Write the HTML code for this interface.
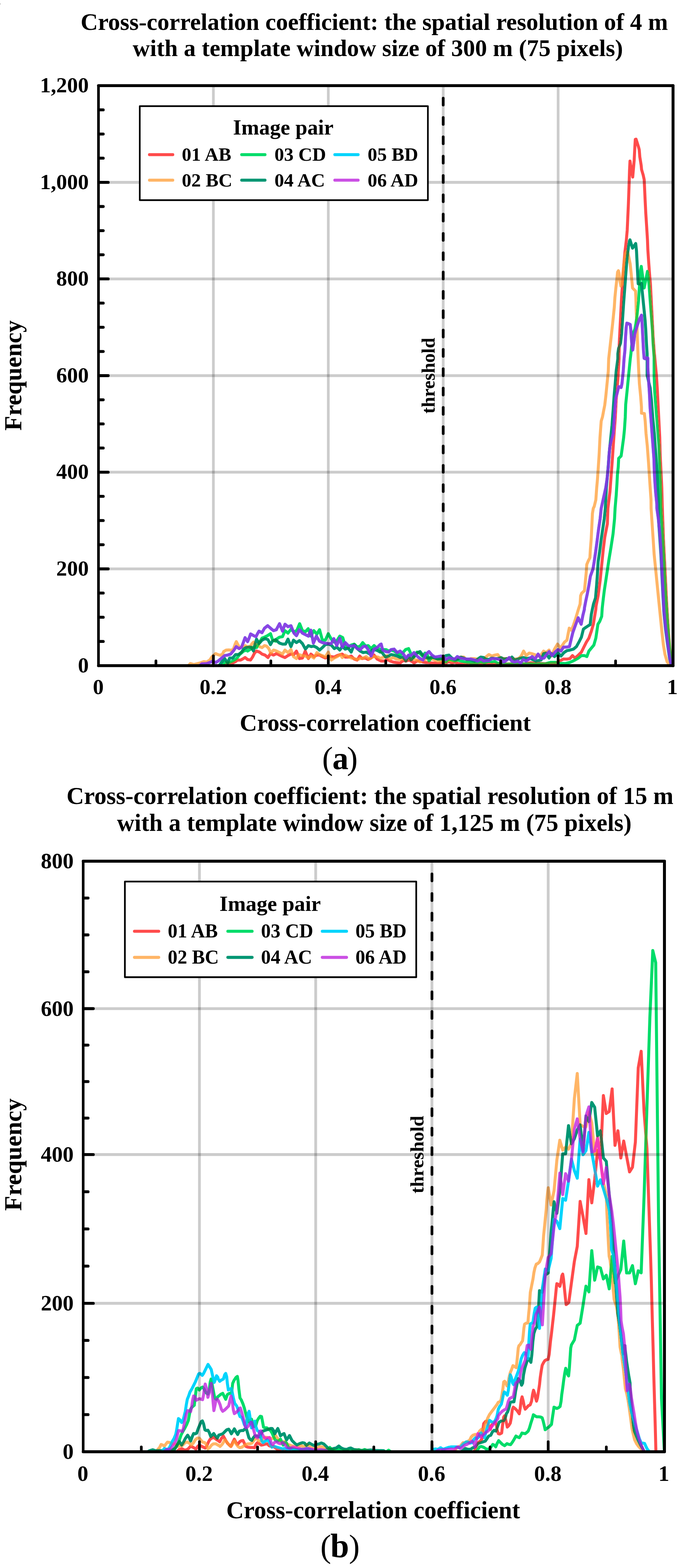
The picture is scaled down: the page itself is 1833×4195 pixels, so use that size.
<!DOCTYPE html>
<html lang="en"><head><meta charset="utf-8"><title>Cross-correlation coefficient histograms</title>
<style>
html,body{margin:0;padding:0;background:#fff;}
body{width:1833px;height:4195px;overflow:hidden;}
svg{display:block;}
text{font-family:'Liberation Serif', 'DejaVu Serif', serif;font-weight:bold;fill:#000;}
</style></head>
<body>
<svg width="1833" height="4195" viewBox="0 0 1833 4195">
<rect width="1833" height="4195" fill="#fff"/>
<rect x="0" y="9.9" width="1.2" height="1.3" fill="#000"/>
<g id="chart-a">
<text x="215.7" y="80" font-size="64.1px">Cross-correlation coefficient: the spatial resolution of 4 m</text>
<text x="355" y="150.3" font-size="63.93px">with a template window size of 300 m (75 pixels)</text>
<filter id="blend-a" filterUnits="userSpaceOnUse" x="263.5" y="229.2" width="1537.5" height="1551.7" color-interpolation-filters="sRGB"><feColorMatrix type="matrix" values="-2.64971 0 0 0 2.29836 0 -1.00000 0 0 1.00000 0 0 -1.00000 0 1.00000 0 0 0 0 1"/></filter>
<clipPath id="clip-a"><rect x="263.5" y="229.2" width="1537.5" height="1551.7"/></clipPath>
<g filter="url(#blend-a)"><rect x="263.5" y="229.2" width="1537.5" height="1551.7" fill="#7d0000"/>
<g fill="none" stroke-width="8" stroke-linejoin="round" stroke-linecap="round" stroke-opacity="0.74" clip-path="url(#clip-a)">
<path d="M598.5,1782.5 601.2,1782.5 609.2,1775.2 619.9,1775.2 630.5,1769.9 635.9,1765.9 643.8,1765.9 649.2,1763.2 655.8,1759.2 662.5,1764.5 670.5,1765.9 675.8,1757.9 681.1,1747.2 686.5,1741.9 694.5,1744.6 701.1,1749.9 709.1,1752.6 717.1,1759.2 723.8,1748.6 731.8,1752.6 739.8,1748.6 740,1748.6 748,1752.6 756,1756.6 762.6,1759.2 770.6,1753.9 778.6,1749.9 786.6,1751.2 793.3,1741.9 801.3,1761.9 809.3,1760.5 816.7,1741.9 825.3,1761.9 831.9,1749.9 839.9,1756.6 847.9,1752.6 855.1,1752.6 862.6,1756.6 870.5,1760.5 878.5,1756.6 886.5,1756.6 894.5,1757.9 902.5,1753.9 910.5,1751.2 915.9,1749.9 923.8,1757.9 931.8,1757.9 939.8,1755.2 947.8,1763.2 955.8,1765.9 962.5,1755.2 969.1,1761.9 977.1,1760.5 985.1,1764.5 993.1,1760.5 1001.1,1752.6 1009.1,1763.2 1017.1,1767.2 1020,1768.5 1028,1768.5 1036,1764.5 1044,1768.5 1052,1771.2 1060,1772.5 1070.6,1773.9 1078.6,1767.2 1086.6,1768.5 1094.6,1765.9 1102.6,1769.9 1107.9,1773.9 1115.9,1768.5 1123.9,1768.5 1131.9,1771.2 1139.9,1772.5 1147.9,1772.5 1155.9,1773.9 1163.9,1773.9 1171.9,1775.2 1179.9,1772.5 1186.5,1773.9 1193.2,1773.9 1201.2,1769.9 1209.2,1773.9 1217.2,1771.2 1225.2,1775.2 1233.2,1776.5 1241.1,1776.5 1249.1,1776.5 1259.8,1777.1 1273.1,1777.1 1286.4,1777.1 1297.1,1776.5 1300,1776.5 1326.6,1776.5 1353.3,1776.5 1379.9,1776.5 1406.6,1775.7 1419.9,1773.1 1433.2,1774.4 1459.9,1775.7 1486.5,1774.4 1497.2,1768.5 1507.8,1763.2 1518.5,1763.2 1525.1,1761.9 1531.8,1753.9 1538.5,1760.5 1546.5,1753.9 1555.8,1744.6 1562.4,1731.2 1569.1,1717.9 1575.8,1707.3 1582.4,1688.6 1587.8,1670 1591.7,1646 1594.4,1630 1595,1621.6 1600.5,1594 1606,1552.7 1610.1,1511.4 1614.3,1470.1 1618.4,1437.1 1625.3,1401.3 1626.7,1360 1632.2,1315.2 1635.5,1270.8 1638.8,1226.4 1641,1193.1 1643.3,1159.8 1646.6,1115.4 1648.8,1071 1653.2,1015.5 1656.6,960 1656.6,955.2 1657.1,919.7 1659.7,866.4 1661.5,830.9 1663.3,795.4 1665.1,768.7 1666.8,742.1 1669.5,706.6 1672.2,674.6 1676.1,642 1678.4,615.3 1681.6,544.3 1683.2,499.9 1684.6,455.4 1685.8,430.9 1687.6,443 1693.1,473.6 1697,428.8 1698.8,393.3 1700,372.9 1702,372.3 1705,381.7 1708.9,394.2 1710.5,400.4 1712.1,419.9 1715.7,442.1 1716.8,453.7 1721,467.9 1723.8,480.7 1724.7,499.9 1726.3,535.4 1728.1,570.9 1730.4,606.4 1732.6,642 1733.6,668.6 1735.4,695.2 1738.2,734.3 1740.5,759.9 1742.3,795.4 1744.1,830.9 1745.9,866.4 1747.7,902 1750.3,937.5 1756.5,1004.4 1758.7,1037.7 1760.9,1082.1 1763.2,1126.5 1765.4,1170.9 1766.5,1215.3 1768.7,1259.7 1770.9,1304.1 1772,1348.5 1775.3,1442.6 1779.5,1525.2 1783.6,1607.8 1787.7,1676.6 1791.8,1731.7 1796,1778.5" stroke="#00f3f3"><title>01 AB</title></path>
<path d="M502.6,1782.5 509.3,1775.2 518.6,1777.9 534.6,1773.9 545.3,1769.9 553.2,1771.2 561.2,1765.9 566.6,1757.9 571.9,1752.6 577.2,1748.6 582.6,1751.2 589.2,1753.1 595.9,1749.4 598.5,1743.2 605.2,1739.2 611.9,1738.7 619.9,1739.8 625.2,1735.2 629.2,1723.2 632.4,1716.6 637.2,1725.9 641.2,1732.6 646.5,1731.2 650.5,1729.9 655.8,1727.2 662.5,1731.2 670.5,1728.6 674.5,1721.9 678.5,1717.9 682.5,1723.2 686.5,1725.9 694.5,1729.9 701.1,1732.6 707.8,1727.2 713.1,1728.6 718.4,1733.9 722.4,1741.9 723.8,1747.2 726.4,1745.9 731.8,1739.2 737.1,1740.6 740,1741.9 748,1745.9 756,1749.9 762.6,1739.2 770.6,1745.9 778.6,1737.9 785.3,1756.6 793.3,1761.9 800,1751.2 807.9,1753.9 817.3,1755.2 825.3,1760.5 831.9,1755.2 839.9,1760.5 847.9,1745.9 855.1,1751.2 862.6,1753.9 870.5,1757.9 878.5,1744.6 886.5,1765.9 894.5,1760.5 902.5,1756.6 910.5,1751.2 915.9,1759.2 923.8,1752.6 931.8,1756.6 939.8,1760.5 947.8,1761.9 955.8,1764.5 963.8,1761.9 971.8,1760.5 979.8,1756.6 987.8,1763.2 995.8,1757.9 1003.8,1756.6 1011.8,1757.9 1018.4,1761.9 1020,1760.5 1028,1757.9 1036,1753.9 1044,1763.2 1052,1759.2 1060,1763.2 1068,1764.5 1076,1763.2 1083.9,1763.2 1091.9,1760.5 1099.9,1760.5 1107.9,1764.5 1115.9,1765.9 1123.9,1771.2 1131.9,1765.9 1139.9,1763.2 1147.9,1760.5 1155.9,1763.2 1163.9,1765.9 1171.9,1768.5 1179.9,1768.5 1186.5,1768.5 1193.2,1765.9 1201.2,1765.9 1209.2,1768.5 1217.2,1764.5 1225.2,1761.9 1233.2,1757.9 1241.1,1757.9 1249.1,1765.9 1259.8,1761.9 1267.8,1761.9 1275.8,1763.2 1283.8,1765.9 1291.8,1768.5 1298.4,1763.2 1300,1757.9 1308,1751.2 1316,1755.2 1324,1752.6 1332,1751.2 1338.6,1760.5 1348,1761.9 1356,1761.9 1363.9,1760.5 1371.9,1763.2 1379.9,1763.2 1387.9,1761.9 1394.6,1755.2 1401.2,1741.9 1407.9,1753.9 1415.9,1747.2 1422.6,1748.6 1430.5,1751.2 1438.5,1755.2 1446.5,1753.9 1454.5,1741.9 1461.2,1745.9 1469.2,1739.2 1475.8,1755.2 1483.8,1736.6 1491.8,1723.2 1499.8,1733.9 1505.2,1725.9 1510.5,1717.9 1517.1,1712.6 1521.1,1691.3 1523.3,1680.6 1529.1,1686 1534.5,1672.6 1539.8,1656.6 1543.8,1643.3 1547.8,1630 1552.3,1616.1 1553.7,1594 1556.4,1587.2 1563.9,1580.3 1566.1,1558.2 1568.8,1530.7 1570.2,1510.1 1574.3,1500.4 1578.5,1492.2 1579.8,1470.1 1582,1442.6 1584,1401.3 1585.3,1373.8 1587.6,1360 1590,1355.2 1594.4,1337.4 1596.6,1306.4 1598.8,1281.9 1601.1,1248.6 1603.3,1215.3 1604.4,1193.1 1605.5,1170.9 1607.1,1148.7 1608.8,1126.5 1612.2,1115.4 1615.5,1097.7 1618.2,1084.3 1621.1,1059.9 1623.3,1037.7 1625.5,1015.5 1627.7,993.3 1628.8,960 1639.3,866.4 1641.1,848.7 1643.8,822 1645.5,795.4 1648.2,768.7 1650.8,745.6 1652.6,727.9 1654.8,724.3 1656.5,731.4 1658.8,751 1661.5,765.2 1664.2,759.9 1666,742.1 1668.6,715.5 1671.3,694.1 1673.9,678.1 1677,672.3 1680.2,676.4 1682.8,688.8 1686.4,706.6 1688.2,724.3 1690.8,751 1692.6,770.5 1697,775 1700.6,778.5 1701.5,795.4 1702.4,830.9 1704.1,866.4 1707.7,960 1709.2,993.3 1711,1026.6 1714.3,1059.9 1716.5,1088.8 1716.6,1105.4 1724.3,1106.5 1726.5,1126.5 1728.7,1159.8 1732.1,1193.1 1735.4,1237.5 1737.6,1270.8 1739.8,1304.1 1742.1,1337.4 1742.3,1360 1745,1401.3 1747.8,1442.6 1750.5,1483.9 1754.7,1525.2 1758.8,1566.5 1762.9,1607.8 1767.1,1649.1 1771.2,1690.4 1775.3,1726.2 1779.5,1751 1785,1770.2 1790.5,1778" stroke="#3364cf"><title>02 BC</title></path>
<path d="M585.2,1782.5 593.2,1782.5 601.2,1772.5 614.5,1772.5 625.2,1767.2 633.2,1761.9 641.2,1751.2 651.8,1741.9 659.8,1739.2 662.5,1741.9 670.5,1736.6 678.5,1731.2 686.5,1732.6 694.5,1717.9 701.1,1707.3 707.8,1704.6 715.8,1700.6 723.8,1695.3 729.1,1711.3 737.1,1715.3 740,1709.9 748,1704.6 756,1703.3 762.6,1687.3 770.6,1693.9 778.6,1683.3 786.6,1691.3 794.6,1686 801.8,1668.6 809.3,1687.3 817.3,1690 824.7,1682 831.9,1701.9 839.9,1687.3 847.9,1696.6 855.1,1684.6 862.6,1712.6 870.5,1712.6 878.5,1695.3 886.5,1709.9 894.5,1717.9 902.5,1712.6 909.2,1701.9 917.2,1705.9 923.8,1728.6 931.8,1732.6 939.8,1725.9 947.8,1723.2 955.8,1731.2 963.8,1728.6 970.5,1719.2 978.5,1728.6 985.1,1727.2 993.1,1735.2 1001.1,1727.2 1009.1,1735.2 1017.1,1736.6 1020,1744.6 1025.3,1737.9 1033.3,1737.9 1040,1741.9 1046.6,1739.2 1054.6,1741.9 1062.6,1747.2 1070.6,1752.6 1077.3,1747.2 1085.3,1737.9 1093.3,1735.2 1099.9,1749.9 1107.9,1757.9 1115.9,1744.6 1122.6,1747.2 1130.6,1755.2 1137.2,1747.2 1143.9,1752.6 1147.9,1768.5 1155.9,1757.9 1163.9,1760.5 1171.9,1763.2 1179.9,1763.2 1186.5,1763.2 1193.2,1771.2 1201.2,1763.2 1209.2,1765.9 1217.2,1768.5 1225.2,1765.9 1233.2,1768.5 1243.8,1771.2 1254.5,1772.5 1265.1,1773.9 1275.8,1773.9 1286.4,1771.2 1297.1,1773.9 1300,1772.5 1308,1769.9 1316,1771.2 1324,1769.9 1332,1774.4 1353.3,1776.3 1379.9,1776.5 1406.6,1776 1433.2,1776.3 1459.9,1775.7 1473.2,1772 1486.5,1772 1499.8,1774.7 1513.2,1775.2 1523.8,1772.5 1531.8,1769.1 1539.8,1765.1 1547.8,1760.5 1555.8,1753.9 1563.8,1753.9 1570.4,1756.6 1575.8,1741.9 1582.4,1733.9 1589.1,1725.9 1594.4,1707.3 1600,1670 1604.6,1662.9 1610.1,1649.1 1611.5,1627.1 1614.3,1602.3 1617,1580.3 1621.2,1552.7 1625.3,1525.2 1629.4,1497.7 1634.9,1464.6 1640.4,1428.8 1644.5,1387.5 1645.9,1360 1648.8,1326.3 1651,1293 1652.1,1270.8 1654.4,1248.6 1655.5,1226.4 1662.1,1219.8 1664.3,1204.2 1668.8,1170.9 1671,1148.7 1673.2,1115.4 1674.3,1082.1 1677.7,1048.8 1681,1015.5 1684.3,982.2 1686.5,960 1688.2,946.4 1689.9,928.6 1691.7,910.8 1694.4,891.3 1698.8,880.6 1701.5,866.4 1704.1,848.7 1706.8,822 1708.6,804.3 1710.4,777.6 1712.1,751 1713.9,724.3 1716,712.8 1723.7,770.5 1732.6,726.1 1735.2,742.1 1737.9,777.6 1740.5,813.1 1743.2,848.7 1745.9,884.2 1747.7,919.7 1750.3,955.2 1750.4,1004.4 1752,1048.8 1755.4,1093.2 1759.8,1148.7 1763.2,1193.1 1765.4,1248.6 1767.6,1304.1 1768.7,1359.6 1775.3,1470.1 1780.8,1580.3 1786.3,1662.9 1791.8,1731.7 1796,1775.8" stroke="#ff2fcb"><title>03 CD</title></path>
<path d="M582.6,1782.5 585.2,1782.5 593.2,1771.2 601.2,1761.9 609.2,1773.9 614.5,1760.5 622.5,1760.5 630.5,1751.2 638.5,1751.2 646.5,1744.6 651.8,1736.6 657.2,1732.6 665.1,1731.2 671.8,1731.2 678.5,1741.9 682.5,1723.2 686.5,1709.9 693.1,1721.9 701.1,1712.6 709.1,1708.6 717.1,1711.3 723.8,1724.6 729.1,1715.3 737.1,1711.3 740,1713.9 748,1720.6 756,1723.2 764,1723.2 770.6,1709.9 778.6,1729.9 785.3,1712.6 793.3,1719.2 801.3,1713.9 809.3,1721.9 817.3,1736.6 825.3,1727.2 833.2,1729.9 839.9,1728.6 847.9,1732.6 855.1,1739.2 862.6,1732.6 870.5,1724.6 878.5,1723.2 886.5,1725.9 894.5,1735.2 901.2,1731.2 909.2,1739.2 915.9,1729.9 923.8,1736.6 931.8,1733.9 939.8,1744.6 947.8,1724.6 955.8,1735.2 963.8,1741.9 971.8,1745.9 979.8,1744.6 987.8,1748.6 995.8,1739.2 1002.4,1737.9 1010.4,1740.6 1017.1,1744.6 1020,1741.9 1025.3,1749.9 1032,1757.9 1040,1755.2 1046.6,1751.2 1054.6,1752.6 1062.6,1755.2 1070.6,1759.2 1078.6,1757.9 1086.1,1768.5 1093.3,1755.2 1099.9,1765.9 1107.9,1756.6 1115.9,1747.2 1123.9,1743.2 1131.9,1753.9 1139.9,1759.2 1147.9,1760.5 1155.9,1757.9 1163.9,1760.5 1171.9,1763.2 1179.9,1761.9 1186.5,1760.5 1193.2,1753.9 1201.2,1752.6 1209.2,1760.5 1217.2,1764.5 1225.2,1763.2 1233.2,1757.9 1241.1,1760.5 1249.1,1764.5 1259.8,1765.9 1270.5,1768.5 1278.4,1763.2 1286.4,1757.9 1294.4,1759.2 1300,1763.2 1308,1764.5 1316,1760.5 1324,1761.9 1332,1761.9 1340,1759.2 1348,1763.2 1356,1761.9 1363.9,1763.2 1369.8,1757.9 1377.3,1765.9 1385.3,1763.2 1393.2,1760.5 1401.2,1759.2 1409.2,1761.9 1417.2,1760.5 1425.2,1764.5 1433.2,1768.5 1441.2,1767.2 1447.9,1765.9 1454.5,1748.6 1461.2,1747.2 1469.2,1760.5 1475.8,1748.6 1483.8,1756.6 1493.2,1747.2 1501.2,1755.2 1509.2,1745.9 1517.1,1740.6 1525.1,1739.2 1534.5,1736.6 1542.5,1729.9 1550.5,1715.3 1555.8,1704.6 1561.1,1683.3 1566.4,1679.3 1574.4,1674 1579.2,1671.3 1582.4,1643.3 1585.1,1630 1588.1,1616.1 1593.6,1599.5 1596.4,1566.5 1598.6,1536.2 1600.5,1503.2 1604.6,1475.6 1608.8,1442.6 1612.9,1415.1 1617,1387.5 1619.8,1360 1622.6,1304.1 1626.6,1259.7 1631,1204.2 1634.4,1170.9 1637.7,1137.6 1641,1093.2 1643.3,1059.9 1646.6,1022.2 1648.8,993.3 1653.2,960 1653.3,946.4 1655.3,932.1 1660.6,917.9 1663.3,893.1 1665.1,866.4 1668.6,813.1 1671.3,777.6 1673.9,742.1 1676.6,706.6 1679.3,679.9 1681.9,658.6 1684.6,644.4 1685.8,641.7 1692.6,663.9 1701.1,651.5 1703.2,671 1705,706.6 1706.8,742.1 1707.7,759 1712.1,759.9 1716.6,758.1 1718.3,777.6 1721,804.3 1723.7,830.9 1726.3,857.5 1728.1,884.2 1729.9,919.7 1731.7,946.4 1731.7,1004.4 1739.8,1037.7 1743.2,1071 1746.5,1115.4 1750.9,1159.8 1753.2,1193.1 1756.5,1237.5 1758.7,1270.8 1759.8,1304.1 1762,1348.5 1762.1,1360 1762.9,1401.3 1765.7,1442.6 1768.5,1483.9 1771.2,1539 1774,1594 1776.7,1640.8 1780.8,1682.1 1786.3,1723.4 1791.8,1762 1796,1778.5" stroke="#ff8ebd"><title>04 AC</title></path>
<path d="M513.3,1782.5 531.9,1782.5 539.9,1776 553.2,1775.2 563.9,1771.2 569.2,1768.5 577.2,1772.5 583.9,1768.5 593.2,1760.5 601.2,1753.9 609.2,1752.6 617.2,1749.9 625.2,1740.6 631.9,1729.9 639.8,1735.2 646.5,1731.2 650.5,1720.6 655.8,1705.9 662.5,1716.6 666.5,1707.3 670.5,1696.1 678.5,1700.6 685.1,1703.3 689.1,1695.3 693.1,1688.6 701.1,1692.6 707.8,1680.6 716.3,1674 723.8,1680.6 731.8,1687.3 739.8,1684.6 740,1683.3 748,1668.6 756,1688.6 762.6,1670 770.6,1676.6 778.6,1674 786.6,1693.9 793.3,1700.6 801.3,1684.6 809.3,1693.9 817.3,1697.9 825.3,1701.9 831.9,1686 838.6,1720.6 846.6,1701.9 854.6,1715.3 862.6,1719.2 870.5,1720.6 878.5,1721.9 886.5,1721.9 893.2,1708.6 901.2,1727.2 909.2,1707.3 915.9,1731.2 923.8,1719.2 931.8,1727.2 939.8,1728.6 947.8,1727.2 955.8,1735.2 963.8,1737.9 971.8,1729.9 978.5,1728.6 985.1,1737.9 993.1,1755.2 1001.1,1736.6 1009.1,1732.6 1017.1,1724.6 1020,1723.2 1024,1739.2 1032,1743.2 1040,1744.6 1046.6,1737.9 1054.6,1736.6 1062.6,1745.9 1070.6,1741.9 1078.6,1748.6 1086.6,1760.5 1093.3,1752.6 1099.9,1753.9 1107.9,1745.9 1115.9,1755.2 1123.9,1761.9 1131.9,1765.9 1139.9,1749.9 1147.9,1743.2 1155.9,1752.6 1163.9,1757.9 1171.9,1756.6 1179.9,1755.2 1186.5,1756.6 1193.2,1764.5 1201.2,1759.2 1209.2,1761.9 1217.2,1763.2 1223.8,1756.6 1231.8,1760.5 1239.8,1761.9 1249.1,1763.2 1259.8,1763.2 1270.5,1765.9 1278.4,1768.5 1286.4,1763.2 1294.4,1768.5 1300,1767.2 1308,1767.2 1316,1761.9 1324,1761.9 1332,1763.2 1340,1765.9 1348,1771.2 1356,1765.9 1362.6,1759.2 1369.3,1768.5 1377.3,1771.2 1385.3,1768.5 1393.2,1773.9 1399.9,1764.5 1407.9,1768.5 1415.9,1763.2 1423.9,1756.6 1431.9,1763.2 1439.9,1749.9 1447.9,1761.9 1455.9,1760.5 1462.5,1751.2 1469.2,1743.2 1477.2,1753.9 1485.2,1744.6 1493.2,1737.9 1501.2,1741.9 1507.8,1731.2 1515.8,1731.2 1523.8,1729.9 1529.1,1707.3 1533.1,1691.3 1539.8,1672.6 1547.2,1652.7 1555.2,1670 1559.8,1646 1563.8,1630 1563.8,1627.1 1567.5,1607.8 1571.6,1588.5 1575.7,1566.5 1579.8,1541.7 1586.7,1522.4 1589.5,1505.9 1593.6,1478.4 1597.7,1448.1 1601.9,1415.1 1606,1387.5 1608.8,1360 1621.1,1304.1 1624.4,1281.9 1627.7,1248.6 1629.9,1215.3 1632.2,1193.1 1636.6,1175.4 1641,1159.8 1643.3,1126.5 1645.5,1093.2 1647.7,1066.6 1652.1,1048.8 1655.5,1034.4 1662.1,1036.6 1664.3,1026.6 1667.7,993.3 1669.9,960 1672.2,937.5 1673.9,902 1675.7,875.3 1677.5,864.6 1681,865.5 1686.4,868.2 1688.2,884.2 1689.9,910.8 1691.7,928.6 1693.1,936.6 1695.3,919.7 1698.8,893.1 1702.4,880.6 1706.8,866.4 1711.2,854 1716.6,843.3 1718.3,866.4 1720.1,902 1721.9,937.5 1723.7,958.8 1726.3,959.7 1730.8,957 1733.5,957.9 1733.5,982.2 1735.4,1015.5 1737.6,1048.8 1739.8,1093.2 1743.2,1137.6 1746.5,1182 1749.8,1226.4 1750.9,1259.7 1752,1281.9 1754.3,1315.2 1757.6,1348.5 1757.7,1360 1761.6,1387.5 1765.7,1428.8 1768.5,1470.1 1771.2,1525.2 1774,1580.3 1776.7,1635.3 1780.8,1676.6 1786.3,1717.9 1791.8,1759.2 1796,1778.5" stroke="#ff3a04"><title>05 BD</title></path>
<path d="M513.3,1782.5 531.9,1782.5 539.9,1776 553.2,1775.2 563.9,1771.2 569.2,1768.5 577.2,1772.5 583.9,1768.5 593.2,1760.5 601.2,1753.9 609.2,1752.6 617.2,1749.9 625.2,1740.6 631.9,1729.9 639.8,1735.2 646.5,1731.2 650.5,1720.6 655.8,1705.9 662.5,1716.6 666.5,1707.3 670.5,1696.1 678.5,1700.6 685.1,1703.3 689.1,1695.3 693.1,1688.6 701.1,1692.6 707.8,1680.6 716.3,1674 723.8,1680.6 731.8,1687.3 739.8,1684.6 740,1683.3 748,1668.6 756,1688.6 762.6,1670 770.6,1676.6 778.6,1674 786.6,1693.9 793.3,1700.6 801.3,1684.6 809.3,1693.9 817.3,1697.9 825.3,1701.9 831.9,1686 838.6,1720.6 846.6,1701.9 854.6,1715.3 862.6,1719.2 870.5,1720.6 878.5,1721.9 886.5,1721.9 893.2,1708.6 901.2,1727.2 909.2,1707.3 915.9,1731.2 923.8,1719.2 931.8,1727.2 939.8,1728.6 947.8,1727.2 955.8,1735.2 963.8,1737.9 971.8,1729.9 978.5,1728.6 985.1,1737.9 993.1,1755.2 1001.1,1736.6 1009.1,1732.6 1017.1,1724.6 1020,1723.2 1024,1739.2 1032,1743.2 1040,1744.6 1046.6,1737.9 1054.6,1736.6 1062.6,1745.9 1070.6,1741.9 1078.6,1748.6 1086.6,1760.5 1093.3,1752.6 1099.9,1753.9 1107.9,1745.9 1115.9,1755.2 1123.9,1761.9 1131.9,1765.9 1139.9,1749.9 1147.9,1743.2 1155.9,1752.6 1163.9,1757.9 1171.9,1756.6 1179.9,1755.2 1186.5,1756.6 1193.2,1764.5 1201.2,1759.2 1209.2,1761.9 1217.2,1763.2 1223.8,1756.6 1231.8,1760.5 1239.8,1761.9 1249.1,1763.2 1259.8,1763.2 1270.5,1765.9 1278.4,1768.5 1286.4,1763.2 1294.4,1768.5 1300,1767.2 1308,1767.2 1316,1761.9 1324,1761.9 1332,1763.2 1340,1765.9 1348,1771.2 1356,1765.9 1362.6,1759.2 1369.3,1768.5 1377.3,1771.2 1385.3,1768.5 1393.2,1773.9 1399.9,1764.5 1407.9,1768.5 1415.9,1763.2 1423.9,1756.6 1431.9,1763.2 1439.9,1749.9 1447.9,1761.9 1455.9,1760.5 1462.5,1751.2 1469.2,1743.2 1477.2,1753.9 1485.2,1744.6 1493.2,1737.9 1501.2,1741.9 1507.8,1731.2 1515.8,1731.2 1523.8,1729.9 1529.1,1707.3 1533.1,1691.3 1539.8,1672.6 1547.2,1652.7 1555.2,1670 1559.8,1646 1563.8,1630 1563.8,1627.1 1567.5,1607.8 1571.6,1588.5 1575.7,1566.5 1579.8,1541.7 1586.7,1522.4 1589.5,1505.9 1593.6,1478.4 1597.7,1448.1 1601.9,1415.1 1606,1387.5 1608.8,1360 1621.1,1304.1 1624.4,1281.9 1627.7,1248.6 1629.9,1215.3 1632.2,1193.1 1636.6,1175.4 1641,1159.8 1643.3,1126.5 1645.5,1093.2 1647.7,1066.6 1652.1,1048.8 1655.5,1034.4 1662.1,1036.6 1664.3,1026.6 1667.7,993.3 1669.9,960 1672.2,937.5 1673.9,902 1675.7,875.3 1677.5,864.6 1681,865.5 1686.4,868.2 1688.2,884.2 1689.9,910.8 1691.7,928.6 1693.1,936.6 1695.3,919.7 1698.8,893.1 1702.4,880.6 1706.8,866.4 1711.2,854 1716.6,843.3 1718.3,866.4 1720.1,902 1721.9,937.5 1723.7,958.8 1726.3,959.7 1730.8,957 1733.5,957.9 1733.5,982.2 1735.4,1015.5 1737.6,1048.8 1739.8,1093.2 1743.2,1137.6 1746.5,1182 1749.8,1226.4 1750.9,1259.7 1752,1281.9 1754.3,1315.2 1757.6,1348.5 1757.7,1360 1761.6,1387.5 1765.7,1428.8 1768.5,1470.1 1771.2,1525.2 1774,1580.3 1776.7,1635.3 1780.8,1676.6 1786.3,1717.9 1791.8,1759.2 1796,1778.5" stroke="#97ec24"><title>06 AD</title></path>
</g></g>
<g stroke="#000" stroke-opacity="0.2">
<line x1="571" y1="229.2" x2="571" y2="1780.9" stroke-width="7.2"/>
<line x1="878.5" y1="229.2" x2="878.5" y2="1780.9" stroke-width="7.2"/>
<line x1="1186" y1="229.2" x2="1186" y2="1780.9" stroke-width="7.2"/>
<line x1="1493.5" y1="229.2" x2="1493.5" y2="1780.9" stroke-width="7.2"/>
<line x1="263.5" y1="487.9" x2="1801" y2="487.9" stroke-width="7.6"/>
<line x1="263.5" y1="746.2" x2="1801" y2="746.2" stroke-width="7.6"/>
<line x1="263.5" y1="1005" x2="1801" y2="1005" stroke-width="7.6"/>
<line x1="263.5" y1="1263.3" x2="1801" y2="1263.3" stroke-width="7.6"/>
<line x1="263.5" y1="1522" x2="1801" y2="1522" stroke-width="7.6"/>
</g>
<g stroke="#000" stroke-width="7.3" stroke-linecap="round">
<line x1="1186" y1="1780.9" x2="1186" y2="1762.62"/>
<line x1="1186" y1="1729.12" x2="1186" y2="1710.84"/>
<line x1="1186" y1="1677.34" x2="1186" y2="1659.06"/>
<line x1="1186" y1="1625.56" x2="1186" y2="1607.28"/>
<line x1="1186" y1="1573.78" x2="1186" y2="1555.5"/>
<line x1="1186" y1="1522" x2="1186" y2="1503.74"/>
<line x1="1186" y1="1470.26" x2="1186" y2="1452"/>
<line x1="1186" y1="1418.52" x2="1186" y2="1400.26"/>
<line x1="1186" y1="1366.78" x2="1186" y2="1348.52"/>
<line x1="1186" y1="1315.04" x2="1186" y2="1296.78"/>
<line x1="1186" y1="1263.3" x2="1186" y2="1245.06"/>
<line x1="1186" y1="1211.64" x2="1186" y2="1193.4"/>
<line x1="1186" y1="1159.98" x2="1186" y2="1141.74"/>
<line x1="1186" y1="1108.32" x2="1186" y2="1090.08"/>
<line x1="1186" y1="1056.66" x2="1186" y2="1038.42"/>
<line x1="1186" y1="1005" x2="1186" y2="986.73"/>
<line x1="1186" y1="953.24" x2="1186" y2="934.97"/>
<line x1="1186" y1="901.48" x2="1186" y2="883.21"/>
<line x1="1186" y1="849.72" x2="1186" y2="831.45"/>
<line x1="1186" y1="797.96" x2="1186" y2="779.69"/>
<line x1="1186" y1="746.2" x2="1186" y2="727.96"/>
<line x1="1186" y1="694.54" x2="1186" y2="676.3"/>
<line x1="1186" y1="642.88" x2="1186" y2="624.64"/>
<line x1="1186" y1="591.22" x2="1186" y2="572.98"/>
<line x1="1186" y1="539.56" x2="1186" y2="521.32"/>
<line x1="1186" y1="487.9" x2="1186" y2="469.64"/>
<line x1="1186" y1="436.16" x2="1186" y2="417.9"/>
<line x1="1186" y1="384.42" x2="1186" y2="366.16"/>
<line x1="1186" y1="332.68" x2="1186" y2="314.42"/>
<line x1="1186" y1="280.94" x2="1186" y2="262.68"/>
</g>
<text transform="translate(1163.4,1005) rotate(-90)" text-anchor="middle" font-size="50.3px">threshold</text>
<g stroke="#000" stroke-linecap="round">
<line x1="264.1" y1="293.88" x2="276.2" y2="293.88" stroke-width="7.8"/>
<line x1="264.1" y1="358.55" x2="276.2" y2="358.55" stroke-width="7.8"/>
<line x1="264.1" y1="423.22" x2="276.2" y2="423.22" stroke-width="7.8"/>
<line x1="264.1" y1="487.9" x2="289.5" y2="487.9" stroke-width="7.8"/>
<line x1="264.1" y1="552.48" x2="276.2" y2="552.48" stroke-width="7.8"/>
<line x1="264.1" y1="617.05" x2="276.2" y2="617.05" stroke-width="7.8"/>
<line x1="264.1" y1="681.62" x2="276.2" y2="681.62" stroke-width="7.8"/>
<line x1="264.1" y1="746.2" x2="289.5" y2="746.2" stroke-width="7.8"/>
<line x1="264.1" y1="810.9" x2="276.2" y2="810.9" stroke-width="7.8"/>
<line x1="264.1" y1="875.6" x2="276.2" y2="875.6" stroke-width="7.8"/>
<line x1="264.1" y1="940.3" x2="276.2" y2="940.3" stroke-width="7.8"/>
<line x1="264.1" y1="1005" x2="289.5" y2="1005" stroke-width="7.8"/>
<line x1="264.1" y1="1069.58" x2="276.2" y2="1069.58" stroke-width="7.8"/>
<line x1="264.1" y1="1134.15" x2="276.2" y2="1134.15" stroke-width="7.8"/>
<line x1="264.1" y1="1198.72" x2="276.2" y2="1198.72" stroke-width="7.8"/>
<line x1="264.1" y1="1263.3" x2="289.5" y2="1263.3" stroke-width="7.8"/>
<line x1="264.1" y1="1327.97" x2="276.2" y2="1327.97" stroke-width="7.8"/>
<line x1="264.1" y1="1392.65" x2="276.2" y2="1392.65" stroke-width="7.8"/>
<line x1="264.1" y1="1457.33" x2="276.2" y2="1457.33" stroke-width="7.8"/>
<line x1="264.1" y1="1522" x2="289.5" y2="1522" stroke-width="7.8"/>
<line x1="264.1" y1="1586.72" x2="276.2" y2="1586.72" stroke-width="7.8"/>
<line x1="264.1" y1="1651.45" x2="276.2" y2="1651.45" stroke-width="7.8"/>
<line x1="264.1" y1="1716.18" x2="276.2" y2="1716.18" stroke-width="7.8"/>
<line x1="417.25" y1="1780.9" x2="417.25" y2="1768.2" stroke-width="7.2"/>
<line x1="571" y1="1780.9" x2="571" y2="1754.9" stroke-width="7.2"/>
<line x1="724.75" y1="1780.9" x2="724.75" y2="1768.2" stroke-width="7.2"/>
<line x1="878.5" y1="1780.9" x2="878.5" y2="1754.9" stroke-width="7.2"/>
<line x1="1032.25" y1="1780.9" x2="1032.25" y2="1768.2" stroke-width="7.2"/>
<line x1="1186" y1="1780.9" x2="1186" y2="1754.9" stroke-width="7.2"/>
<line x1="1339.75" y1="1780.9" x2="1339.75" y2="1768.2" stroke-width="7.2"/>
<line x1="1493.5" y1="1780.9" x2="1493.5" y2="1754.9" stroke-width="7.2"/>
<line x1="1647.25" y1="1780.9" x2="1647.25" y2="1768.2" stroke-width="7.2"/>
</g>
<g stroke="#000" stroke-linecap="round">
<line x1="263.5" y1="229.2" x2="1801" y2="229.2" stroke-width="7.8"/>
<line x1="263.5" y1="1780.9" x2="1801" y2="1780.9" stroke-width="7.8"/>
<line x1="263.5" y1="229.2" x2="263.5" y2="1780.9" stroke-width="7.0"/>
<line x1="1801" y1="229.2" x2="1801" y2="1780.9" stroke-width="7.8"/>
</g>
<g font-size="58px">
<text x="237.4" y="247.3" text-anchor="end">1,200</text>
<text x="237.4" y="506" text-anchor="end">1,000</text>
<text x="237.4" y="764.3" text-anchor="end">800</text>
<text x="237.4" y="1023.1" text-anchor="end">600</text>
<text x="237.4" y="1281.4" text-anchor="end">400</text>
<text x="237.4" y="1540.1" text-anchor="end">200</text>
<text x="237.4" y="1799" text-anchor="end">0</text>
<text x="263" y="1857" text-anchor="middle">0</text>
<text x="570.5" y="1857" text-anchor="middle">0.2</text>
<text x="878" y="1857" text-anchor="middle">0.4</text>
<text x="1185.5" y="1857" text-anchor="middle">0.6</text>
<text x="1493" y="1857" text-anchor="middle">0.8</text>
<text x="1799.3" y="1857" text-anchor="middle">1</text>
</g>
<text x="1031.0" y="1955" text-anchor="middle" font-size="64.4px">Cross-correlation coefficient</text>
<text transform="translate(56.8,1004.5) rotate(-90)" text-anchor="middle" font-size="65px">Frequency</text>
<rect x="374" y="284" width="771" height="251.5" fill="#fff" stroke="#000" stroke-width="4.4" stroke-linejoin="round"/>
<text x="758.0" y="360.4" text-anchor="middle" font-size="57.3px">Image pair</text>
<line x1="400" y1="413.7" x2="462.3" y2="413.7" stroke="#ff4b4b" stroke-width="8" stroke-linecap="round"/>
<text x="486.5" y="430" font-size="51.2px">01 AB</text>
<line x1="646.8" y1="413.7" x2="709.1" y2="413.7" stroke="#00dc69" stroke-width="8" stroke-linecap="round"/>
<text x="734.5" y="430" font-size="51.2px">03 CD</text>
<line x1="896" y1="413.7" x2="958.3" y2="413.7" stroke="#00d4fc" stroke-width="8" stroke-linecap="round"/>
<text x="983.8" y="430" font-size="51.2px">05 BD</text>
<line x1="400" y1="482.1" x2="462.3" y2="482.1" stroke="#ffb566" stroke-width="8" stroke-linecap="round"/>
<text x="486.5" y="498.6" font-size="51.2px">02 BC</text>
<line x1="646.8" y1="482.1" x2="709.1" y2="482.1" stroke="#009673" stroke-width="8" stroke-linecap="round"/>
<text x="734.5" y="498.6" font-size="51.2px">04 AC</text>
<line x1="896" y1="482.1" x2="958.3" y2="482.1" stroke="#cb50e4" stroke-width="8" stroke-linecap="round"/>
<text x="983.8" y="498.6" font-size="51.2px">06 AD</text>
<text y="2057.6"><tspan x="861.9" font-size="87px" style="font-weight:normal">(</tspan><tspan x="889.5" font-size="86px">a</tspan><tspan x="928.3" font-size="87px" style="font-weight:normal">)</tspan></text>
</g>
<g id="chart-b">
<text x="178" y="2151" font-size="64.92px">Cross-correlation coefficient: the spatial resolution of 15 m</text>
<text x="313" y="2222.8" font-size="64.72px">with a template window size of 1,125 m (75 pixels)</text>
<filter id="blend-b" filterUnits="userSpaceOnUse" x="222.6" y="2304" width="1555.4" height="1580" color-interpolation-filters="sRGB"><feColorMatrix type="matrix" values="-2.64971 0 0 0 2.29836 0 -1.00000 0 0 1.00000 0 0 -1.00000 0 1.00000 0 0 0 0 1"/></filter>
<clipPath id="clip-b"><rect x="222.6" y="2304" width="1555.4" height="1580"/></clipPath>
<g filter="url(#blend-b)"><rect x="222.6" y="2304" width="1555.4" height="1580" fill="#7d0000"/>
<g fill="none" stroke-width="8" stroke-linejoin="round" stroke-linecap="round" stroke-opacity="0.74" clip-path="url(#clip-b)">
<path d="M222.9,3885.6 471.1,3885.6 479.9,3877.8 487,3876 494.1,3879.6 499.5,3878.7 504.8,3875.1 509.2,3869.8 513.7,3870.7 519,3873.3 524.3,3876.9 528.8,3869.8 533.2,3866.2 538.5,3868.9 543.9,3871.6 549.2,3874.2 553.6,3868 558.1,3857.3 562.5,3850.2 567,3847.6 571.4,3845.8 575.8,3848.5 580.3,3852 583.5,3853.8 588,3857.3 592.4,3848.5 597.8,3842.3 603.1,3852 608.4,3860.9 613.8,3866.2 618.2,3869.8 622.6,3859.1 627.1,3850.2 631.5,3859.1 636,3864.5 641.3,3857.3 645.7,3854.7 650.2,3853.8 653.7,3860.9 658.1,3869.8 663.5,3871.6 668.8,3872.4 675.9,3872.4 681.2,3873.3 684.8,3864.5 688.4,3860 693.7,3862.7 699,3866.2 704.3,3865.3 709.7,3863.6 715,3862.7 720.3,3868 725.6,3869.8 731,3868.9 736.3,3873.3 741.6,3876.9 748.7,3878.7 757.6,3881.3 760,3880.6 768,3885.6 786.6,3885.6 893.2,3885.6 1263,3885.6 1271,3880.9 1274.3,3868.7 1278.8,3859.8 1285.4,3855.4 1289.9,3848.7 1292.1,3824.3 1294.3,3808.8 1298.8,3803.2 1303.2,3802.1 1307.6,3813.2 1312.1,3824.3 1316.5,3811 1321,3806.6 1325.4,3804.3 1328.7,3813.2 1330,3825 1333.5,3835.7 1337.1,3836.6 1342.4,3833.9 1345.1,3810.8 1347.8,3791.3 1350.4,3787.7 1354,3801.9 1357.5,3817.9 1361.1,3814.4 1365.5,3807.3 1368.2,3793.1 1370.8,3771.8 1373.5,3764.7 1378,3768.2 1383.3,3773.5 1389.5,3782.4 1392.2,3766.4 1394.8,3745.1 1397.1,3737.1 1400.2,3748.7 1402.8,3762.9 1405.5,3770 1409,3766.4 1413.5,3761.1 1418.8,3758.4 1422.4,3748.7 1425,3730.9 1427.7,3719.4 1430.4,3727.3 1433,3739.8 1435.7,3748.7 1438.3,3739.8 1441,3722 1443.7,3704.3 1445.5,3686.5 1448.1,3668.7 1450.8,3652.8 1454.3,3645.7 1457.9,3640.3 1462.3,3637.7 1466.8,3636.8 1469.4,3624.3 1471.2,3606.6 1473,3588.8 1475.7,3567.5 1478.3,3544.4 1481,3521.3 1483.9,3493 1486.6,3466.4 1489.2,3439.7 1490.1,3434.4 1493.7,3436.2 1498.1,3441.5 1500.8,3430.8 1503.5,3413.1 1505.8,3408.6 1507.9,3421.9 1510.5,3448.6 1513.2,3475.2 1515,3490.3 1518.5,3487.7 1522.1,3484.1 1529.1,3432 1536.9,3375 1544.7,3334.5 1552.4,3214.3 1560.2,3255 1568,3300 1575.8,3156 1583.5,3218 1591.3,3156 1599.1,3077.5 1606.8,3104.1 1614.6,2931 1622.4,2979 1630.2,2973.7 1638,2913.3 1645.7,3064.3 1653.5,3025.2 1661.3,3098 1669,3052.7 1676.8,3094 1684.6,3135.3 1692.4,3122.9 1700.2,3055.4 1707.9,2857 1715.7,2812.6 1723.5,2975 1731.2,3073 1739,3305 1741,3364 1743,3430 1745,3510 1747.5,3600 1749.5,3680 1751.5,3750 1753.5,3820 1755.2,3885.6 1777.9,3885.6" stroke="#00f3f3"><title>01 AB</title></path>
<path d="M222.9,3885.6 417.8,3885.6 423.1,3876.9 426.6,3873.3 431.1,3864.5 435.5,3866.2 440,3868.9 444.4,3862.7 448,3858.2 453.3,3859.1 458.6,3861.8 463.9,3862.7 471.1,3864.5 476.4,3869.8 481.7,3868 487,3868 492.4,3862.7 495.9,3859.1 501.2,3858.2 506.6,3860.9 511.9,3866.2 517.2,3860.9 522.6,3852 527.9,3847.6 533.2,3847.6 538.5,3853.8 542.1,3858.2 547.4,3859.1 551.9,3864.5 556.3,3876 560.8,3873.3 566.1,3866.2 571.4,3862.7 577.6,3862.7 583,3866.2 584.4,3866.2 588.9,3869.8 594.2,3864.5 597.8,3859.1 601.3,3852 606.6,3857.3 612,3864.5 617.3,3869.8 620.9,3866.2 624.4,3857.3 628,3855.6 631.5,3862.7 636.8,3869.8 642.2,3873.3 647.5,3871.6 652.8,3868 658.1,3864.5 663.5,3862.7 668.8,3862.7 674.1,3860.9 679.5,3853.8 683.9,3848.5 688.4,3850.2 693.7,3855.6 699,3855.6 704.3,3850.2 709.7,3844.9 715,3845.8 720.3,3846.7 725.6,3848.5 731,3848.5 734.5,3844.9 738.1,3841.4 741.6,3846.7 747,3853.8 752.3,3859.1 757.6,3859.1 760,3856.6 770.7,3864.6 778.6,3867.2 786.6,3869.9 794.6,3872.6 805.3,3867.2 813.3,3871.2 821.3,3864.6 829.3,3871.2 837.3,3875.2 847.9,3875.2 855.9,3869.9 863.9,3871.2 871.9,3877.9 882.6,3877.9 893.2,3880.6 901.2,3885.6 909.2,3885.6 946.5,3885.6 1208.6,3885.6 1216.6,3880.9 1225.5,3870.9 1232.2,3868.7 1238.8,3859.8 1243.2,3859.8 1249.9,3857.6 1256.6,3853.2 1261,3844.3 1265.5,3839.9 1272.1,3837.6 1277.7,3839.9 1283.2,3828.8 1287.7,3824.3 1292.1,3831 1296.5,3817.7 1301,3804.3 1305.4,3793.2 1309.9,3784.3 1316.5,3775.5 1323.2,3766.6 1329.8,3757.7 1333.5,3751.3 1338,3750.4 1340.7,3745.1 1343.3,3730.9 1346,3713.1 1347.8,3697.2 1350.4,3695.4 1354,3700.7 1356.6,3707.8 1359.3,3702.5 1362,3686.5 1365.5,3672.3 1369.1,3663.4 1372.6,3653.6 1377.1,3656.3 1381.5,3659 1383.3,3642.1 1385.1,3624.3 1386.8,3606.6 1388.6,3600.4 1392.2,3596.8 1394.8,3592.4 1398.4,3587 1400.2,3571.1 1401.9,3553.3 1403.7,3542.6 1408.2,3540 1412.6,3539.1 1414.4,3517.8 1416.2,3500 1417.3,3484.1 1419.1,3457.5 1422.6,3439.7 1426.2,3421.9 1428.8,3404.2 1431.5,3391.8 1435.1,3382 1439.5,3380.2 1443.9,3375.8 1447.5,3366.9 1451,3358 1452.8,3333.1 1454.6,3306.5 1457.3,3279.9 1459,3262.1 1461.7,3235.4 1463.5,3208.8 1465.3,3191.1 1467,3177.7 1474.7,3223.7 1482.5,3186.4 1490.2,3102.9 1498,3050.5 1505.8,3077.1 1513.5,3069.1 1521.3,3074.5 1529.1,3058.5 1536.9,2939.5 1544.7,2872 1552.4,3008.2 1560.2,3013.5 1568,3014.6 1575.8,2975.2 1583.5,3003.9 1591.3,3088.1 1599.1,3041.2 1606.8,3104.1 1614.6,3163.8 1622.4,3195.8 1623.8,3240 1625.5,3275.5 1628.2,3328.8 1630,3360.8 1632.6,3371.4 1638,3417.6 1643.3,3476.2 1650.4,3497.6 1653.9,3524.2 1656.6,3559.7 1659.3,3604.1 1662.8,3621.9 1662.9,3600 1664.6,3635.5 1668.2,3662.2 1670.8,3688.8 1673.5,3715.4 1677,3727.9 1680.6,3745.7 1684.1,3768.7 1687.7,3795.4 1691.2,3822 1694.8,3838 1698.3,3852.2 1703.7,3862.9 1709,3870 1714.3,3875.3 1721.4,3885.6 1777.9,3885.6" stroke="#3364cf"><title>02 BC</title></path>
<path d="M222.9,3885.6 458.6,3885.6 465.7,3876 471.1,3871.6 476.4,3862.7 480.8,3850.2 484.4,3839.6 488.8,3830.7 494.1,3821.8 499.5,3811.2 503.9,3800.5 506.6,3786.3 509.2,3772.1 511.9,3766.8 515.5,3763.2 519.9,3759.7 522.6,3736.6 525.2,3715.3 528.8,3713.5 533.2,3718.8 537.7,3713.5 542.1,3710.8 545.6,3715.3 551,3725.9 556.3,3729.5 559.9,3718.8 562.5,3697.5 564.8,3689.5 567.9,3704.6 570.5,3718.8 573.2,3733 575.8,3741.9 579.4,3743.7 583,3736.6 585.3,3734.8 590.7,3730.4 596,3727.7 599.5,3734.8 604,3743.7 608.4,3731.2 612,3728.6 617.3,3726.8 620,3724.1 622.6,3701.1 626.2,3693.1 631.5,3685.1 635.1,3682.4 636.8,3692.2 639.5,3718.8 642.2,3740.1 645.7,3745.4 650.2,3756.1 653.7,3766.8 657.3,3781 660.8,3793.4 664.4,3804.1 668.8,3800.5 673.2,3797 676.8,3807.6 681.2,3816.5 684.8,3812.9 688.4,3800.5 692.8,3793.4 696.3,3789 699.9,3789.9 702.6,3804.1 705.2,3818.3 709.7,3820.1 714.1,3820.1 718.5,3823.6 723.9,3827.2 728.3,3834.3 731.9,3843.1 736.3,3852 741.6,3855.6 747,3853.8 750.5,3850.2 754.1,3857.3 757.6,3866.2 760,3859.2 766.7,3860.6 772,3872.6 781.3,3875.2 792,3877.9 813.3,3880.6 839.9,3881.1 866.6,3880.6 877.2,3877.9 882.6,3872.6 887.9,3877.9 898.5,3880.6 906.5,3877.9 914.5,3880.6 946.5,3881.1 959.8,3878.4 967.8,3881.1 975.8,3877.9 983.8,3881.1 991.8,3885.6 1026.4,3885.6 1031.8,3885.6 1039.8,3879.8 1047.8,3885.6 1053.1,3885.6 1268.5,3885.6 1276.5,3880.9 1283.2,3870.9 1287.7,3869.8 1294.3,3872.1 1301,3876.5 1307.6,3877.6 1314.3,3870.9 1318.7,3864.3 1323.2,3866.5 1326.5,3870.9 1330,3862.3 1334.4,3854.3 1338.9,3858.8 1344.2,3864.1 1350.4,3867.7 1356.6,3862.3 1361.1,3864.1 1366.4,3865 1370.8,3858.8 1375.3,3851.7 1380.6,3841.9 1385.1,3844.6 1389.5,3846.4 1393.1,3841 1396.6,3833.9 1401,3834.8 1405.5,3835.7 1409.9,3832.2 1413.5,3828.6 1417,3819.7 1420.6,3807.3 1424.1,3796.6 1427.3,3785.1 1431.2,3787.7 1435.7,3790.4 1441.9,3790.4 1447.2,3791.3 1450.8,3793.1 1453.5,3801.9 1456.1,3812.6 1458.8,3825 1463.2,3821.5 1468.5,3817.9 1472.1,3814.4 1475.7,3810.8 1477.4,3798.4 1480.1,3780.6 1482.4,3764.7 1486.3,3766.4 1489.9,3768.2 1494.3,3766.4 1498.7,3762.9 1501.4,3748.7 1503.2,3730.9 1505.8,3713.1 1508.5,3691.8 1511.2,3674.1 1513.8,3660.8 1516.5,3667 1519.2,3677.6 1521.5,3681.2 1523.6,3659.9 1525.4,3633.2 1527.2,3606.6 1529.1,3598 1536.9,3585 1544.7,3546 1552.4,3540 1560.2,3492 1568,3441 1575.8,3456.2 1583.5,3346 1591.3,3425 1599.1,3389.6 1606.8,3392.3 1614.6,3421.6 1622.4,3411.8 1630.2,3448.2 1638,3361.2 1645.7,3432.2 1653.5,3414 1661.3,3396.5 1669,3320.3 1676.8,3405.6 1684.6,3405.6 1692.4,3386 1700.2,3434.5 1707.9,3399.9 1715.7,3405.2 1723.5,3200 1731.2,2960 1739,2722 1746.8,2543 1754.6,2575.5 1762.3,3270 1770.1,3742 1777.9,3885.6" stroke="#ff2fcb"><title>03 CD</title></path>
<path d="M222.9,3885.6 392,3885.6 400,3881.3 408.9,3878.7 416,3881.3 424.9,3880.4 435.5,3881.3 453.3,3881.3 467.5,3876.9 474.6,3864.5 479.9,3856.5 486.1,3866.2 490.6,3859.1 495.9,3848.5 502.1,3839.6 506.6,3846.7 510.1,3855.6 514.6,3843.1 518.1,3835.2 522.6,3836 526.1,3834.3 530.5,3821.8 535,3811.2 538.5,3803.2 541.6,3801.4 544.8,3809.4 548.3,3825.4 551.9,3827.2 556.3,3826.3 559.9,3832.5 564.3,3844 567.9,3839.6 571.9,3835.2 575.8,3841.4 581.2,3848.5 585.3,3839.6 590.7,3837.8 596,3836 601.3,3830.7 606.6,3825.4 612,3823.6 615.5,3828.9 619.1,3836 623.5,3828.9 627.1,3822.7 631.5,3830.7 636,3837.8 640.4,3828.9 645.7,3827.2 651,3827.2 654.6,3823.6 659,3821.8 662.6,3834.3 666.1,3846.7 670.6,3852 674.1,3853.8 677.7,3846.7 682.1,3841.4 686.6,3841.4 691,3843.1 695.5,3844.9 699,3836 702.6,3828.9 707.9,3827.2 713.2,3825.4 718.5,3823.6 723.9,3821.8 728.3,3821.8 731.9,3827.2 735.4,3836 739,3828.9 743.4,3821.8 747,3830.7 750.5,3841.4 755,3837.8 758.5,3836 760,3835.3 766.7,3852.6 774.6,3840.6 781.3,3853.9 789.3,3861.9 794.6,3865.9 802.6,3861.9 809.3,3859.8 814.6,3860.6 820,3867.2 827.9,3860.6 834.6,3864.6 839.9,3867.2 845.3,3864.6 853.2,3863.2 859.9,3860.6 866.6,3863.2 873.2,3869.9 878.6,3875.2 885.2,3877.9 893.2,3875.2 899.9,3873.9 906.5,3868.6 913.2,3873.9 919.9,3876.6 927.9,3877.9 933.2,3875.2 938.5,3873.9 946.5,3877.9 957.2,3879.2 967.8,3880.6 978.5,3880.6 991.8,3879.2 1005.1,3880.6 1026.4,3881.1 1034.4,3885.6 1058.4,3885.6 1230.8,3885.6 1238.8,3880.9 1245.5,3875.4 1252.1,3877.6 1258.8,3877.6 1265.5,3873.2 1272.1,3870.9 1278.8,3862.1 1285.4,3859.8 1292.1,3857.6 1298.8,3855.4 1303.2,3848.7 1307.6,3842.1 1313.2,3839.9 1317.6,3831 1322.1,3826.5 1327.6,3828.8 1331,3817.7 1335.3,3805.5 1340.7,3801.9 1347.8,3801.1 1351.3,3796.6 1354.9,3782.4 1358.4,3777.1 1362,3766.4 1365.5,3752.2 1370,3750.4 1375.3,3750.4 1377.1,3739.8 1379.7,3722 1383.3,3704.3 1386.8,3688.3 1391.3,3693.6 1395.7,3706 1398.4,3700.7 1401,3677.6 1404.6,3659.9 1409,3645.7 1412.6,3635 1415.3,3635 1417.9,3640.3 1420.6,3644.8 1423.2,3624.3 1425.9,3588.8 1428.6,3567.5 1432.1,3556.8 1436.6,3549.7 1438.3,3535.5 1440.1,3517.8 1443.6,3453 1451.3,3457.5 1459.1,3411 1466.9,3406 1474.7,3297.6 1482.5,3215 1490.2,3246.1 1498,3186.4 1505.8,3086.9 1513.5,3086.9 1521.3,3011.4 1529.1,3060.4 1536.9,3046.6 1544.7,3023.1 1552.4,3009.3 1560.2,3078.5 1568,2985.8 1575.8,3000.7 1583.5,2949.6 1591.3,2962.4 1599.1,3039.1 1606.8,3025.3 1614.6,3097.7 1622.4,3107.3 1630.2,3195.8 1634.4,3240 1638,3293.3 1641.5,3337.7 1644.2,3373.2 1646.8,3417.6 1649.5,3462 1651.3,3488.7 1653.1,3515.3 1657.5,3541.9 1661,3568.6 1664.6,3595.2 1668.2,3621.9 1671.7,3600 1677,3644.4 1682.4,3679.9 1685.9,3699.5 1686.8,3724.3 1689.5,3759.9 1692.1,3786.5 1694.8,3813.1 1697.5,3829.1 1701.9,3839.8 1707.2,3852.2 1714.3,3866.4 1721.4,3878.9 1725,3885.6 1777.9,3885.6" stroke="#ff8ebd"><title>04 AC</title></path>
<path d="M222.9,3885.6 432,3885.6 440,3875.1 444.4,3877.8 450.6,3876.9 455.1,3869.8 460.4,3857.3 465.7,3848.5 470.2,3837.8 472.8,3825.4 475.5,3807.6 477.6,3795.2 481.7,3798.7 486.1,3805.8 489.7,3800.5 492.4,3789.9 495.9,3775.7 498.6,3757.9 501.2,3743.7 504.8,3734.8 508.4,3724.1 513.7,3715.3 518.1,3706.4 522.6,3697.5 527,3686.8 531.4,3676.2 533.6,3674.4 536.8,3675.3 541.2,3679.7 544.8,3674.4 549.2,3665.5 553.6,3656.6 556.7,3650.4 560.8,3656.6 565.2,3663.8 567.9,3676.2 570.5,3688.6 573.2,3698.4 575.8,3692.2 579.4,3680.6 583,3685.1 583.5,3688.6 588,3695.7 592.4,3692.2 597.8,3689.5 601.3,3678 604,3674.4 606.6,3683.3 608.4,3701.1 611.1,3718.8 614.6,3717 619.1,3714.4 621.7,3725.9 624.4,3740.1 628,3754.3 633.3,3761.4 636.8,3770.3 639.5,3782.8 642.2,3789.9 646.6,3791.6 650.2,3800.5 653.7,3811.2 658.1,3816.5 660.8,3798.7 663.5,3782.8 666.5,3775.7 668.8,3789.9 670.6,3807.6 673.2,3820.1 676.8,3816.5 679.5,3804.1 682.1,3802.3 684.8,3816.5 688.4,3827.2 693.7,3830.7 697.2,3843.1 700.8,3855.6 704.3,3860 709.7,3855.6 715,3852 720.3,3857.3 723.9,3866.2 727.4,3871.6 734.5,3869.8 739.9,3871.6 748.7,3874.2 757.6,3876.9 760,3875.2 773.3,3877.9 786.6,3877.9 800,3879.2 813.3,3876.6 823.9,3875.2 834.6,3879.2 842.6,3885.6 853.2,3885.6 893.2,3885.6 1150.9,3885.6 1158.9,3877.6 1165.5,3876.5 1172.2,3877.6 1178.9,3873.2 1185.5,3877.6 1194.4,3874.3 1201.1,3872.1 1207.7,3870.9 1214.4,3870.9 1221,3870.9 1227.7,3873.2 1234.4,3868.7 1241,3862.1 1247.7,3857.6 1252.1,3857.6 1257.7,3860.9 1263.2,3859.8 1267.7,3851 1272.1,3846.5 1276.5,3848.7 1281,3844.3 1284.3,3835.4 1287.7,3833.2 1292.1,3839.9 1296.5,3846.5 1301,3828.8 1305.4,3813.2 1309.9,3799.9 1314.3,3803.2 1319.8,3806.6 1325.4,3799.9 1329.8,3788.8 1333.5,3770 1337.1,3762.9 1341.5,3756.7 1344.2,3745.1 1346.9,3730.9 1349.2,3723.8 1353.1,3727.3 1357.5,3732.7 1360.2,3720.2 1362.9,3695.4 1365.5,3677.6 1368.2,3684.7 1371.7,3700.7 1374.4,3704.3 1377.1,3693.6 1381.5,3682.9 1386.8,3668.7 1391.3,3651 1394.8,3635 1398.4,3626.1 1402.8,3619 1407.3,3620.8 1410.8,3627.9 1412.6,3635 1414.4,3615.4 1415.3,3588.8 1417,3562.2 1418.8,3542.6 1422.4,3540 1425.9,3539.1 1427.7,3526.6 1429.5,3514.2 1432.1,3500 1435.8,3497 1443.6,3554 1451.3,3446.8 1459.1,3395.3 1466.9,3398.9 1474.7,3366.9 1482.5,3262 1490.2,3267.4 1498,3287 1505.8,3206.5 1513.5,3211 1521.3,3159.7 1529.1,3101 1536.9,3131.5 1544.7,3152.1 1552.4,3047.6 1560.2,3089.2 1568,3078.5 1575.8,3029.5 1583.5,3082.8 1591.3,3126.5 1599.1,3173.4 1606.8,3156.3 1614.6,3180 1622.4,3206 1630.2,3238 1633.5,3275.5 1635.3,3311.1 1636.2,3343 1640.6,3355.4 1644.2,3382.1 1647.7,3417.6 1651.3,3453.1 1653.9,3488.7 1656.6,3524.2 1660.2,3559.7 1663.7,3595.2 1666.4,3621.9 1669.9,3644.4 1675.3,3679.9 1679.7,3715.4 1684.1,3751 1689.5,3777.6 1694.8,3795.4 1700.1,3813.1 1705.5,3830.9 1710.8,3848.7 1716.1,3861.1 1721.4,3861.1 1725,3862 1728.5,3870 1732.1,3877.1 1739.2,3885.6 1777.9,3885.6" stroke="#ff3a04"><title>05 BD</title></path>
<path d="M222.9,3885.6 435.5,3885.6 438.2,3885.6 446.2,3877.8 453.3,3877.8 458.6,3873.3 463.9,3866.2 468.4,3859.1 472.8,3848.5 475.5,3836 478.1,3827.2 483.5,3828.1 487.9,3829.8 490.6,3821.8 493.2,3807.6 495.9,3795.2 498.6,3782.8 502.1,3773.9 506.6,3774.8 510.1,3776.5 512.8,3765 515.5,3745.4 518.1,3734.8 521.7,3736.6 525.2,3746.3 529.7,3743.7 534.1,3741.9 538.5,3743.7 542.1,3744.6 544.8,3731.2 547.4,3709.9 549.2,3702.8 552.8,3715.3 556.3,3738.3 559.9,3725.9 563.4,3708.2 565.5,3701.1 567.9,3722.4 570.5,3754.3 572.3,3773.9 575,3761.4 577.6,3747.2 580.3,3742.8 584.4,3747.2 588.9,3757.9 592.4,3770.3 596,3775.7 601.3,3772.1 606.6,3766.8 612,3761.4 615.5,3745.4 618.2,3734.8 621.7,3750.8 624.4,3772.1 627.1,3781.9 631.5,3779.2 636.8,3773.9 640.4,3767.7 643.1,3766.8 646.6,3777.4 650.2,3789.9 653.7,3804.1 656.4,3818.3 659,3820.1 663.5,3816.5 667,3811.2 670.6,3805.8 673.2,3805 675.9,3814.7 678.6,3825.4 682.1,3837.8 685.7,3844.9 689.2,3846.7 692.8,3837.8 695.5,3828.9 698.1,3828.1 701.7,3836 706.1,3844.9 711.4,3848.5 716.8,3846.7 721.2,3845.8 723.9,3853.8 726.5,3862.7 730.1,3864.5 734.5,3859.1 739.9,3857.3 745.2,3860.9 750.5,3862.7 755.8,3859.1 758.5,3860.9 760,3861.9 768,3872.6 776,3875.2 784,3871.2 792,3872.6 800,3875.2 810.6,3877.9 821.3,3875.2 831.9,3876.6 845.3,3879.2 858.6,3877.9 871.9,3880.6 879.9,3885.6 893.2,3885.6 946.5,3885.6 1158.9,3885.6 1164.2,3885.6 1172.2,3879.8 1183.3,3878.7 1194.4,3878.1 1207.7,3876.5 1216.6,3877.6 1221,3873.2 1225.5,3870.9 1232.2,3875.4 1238.8,3870.9 1243.2,3866.5 1249.9,3864.3 1256.6,3859.8 1263.2,3855.4 1267.7,3859.8 1271,3870.9 1274.3,3853.2 1278.8,3835.4 1283.2,3839.9 1287.7,3845.4 1292.1,3839.9 1298.8,3833.2 1305.4,3828.8 1312.1,3822.1 1318.7,3813.2 1325.4,3804.3 1332.1,3795.4 1333.5,3787.7 1338.9,3780.6 1344.2,3775.3 1349.5,3771.8 1354,3770 1356.6,3762.9 1360.2,3748.7 1363.8,3741.6 1369.1,3738.9 1373.5,3736.2 1376.2,3722 1378.8,3704.3 1381.5,3698.9 1386.8,3695.4 1390.4,3688.3 1393.1,3672.3 1396.6,3659.9 1401,3649.2 1405.5,3638.5 1408.2,3615.4 1410.8,3599.5 1414.4,3598.6 1417,3604.8 1420.6,3610.1 1422.4,3588.8 1424.1,3571.1 1426.8,3548 1431.2,3535.5 1433.9,3517.8 1443.6,3497 1451.3,3544.4 1459.1,3410 1466.9,3364 1474.7,3354.5 1482.5,3281.6 1490.2,3235.5 1498,3138.5 1505.8,3196 1513.5,3140 1521.3,3160 1529.1,3102.9 1536.9,3021 1544.7,2993.3 1552.4,3046.6 1560.2,3081.7 1568,2985.8 1575.8,2961.3 1583.5,3081.7 1591.3,3079.6 1599.1,3045.5 1606.8,3105.2 1614.6,3167 1622.4,3123.3 1630.2,3196.5 1637.1,3240 1641.5,3275.5 1645.1,3311.1 1648.6,3346.6 1652.2,3382.1 1654.8,3408.7 1656.6,3435.4 1659.3,3470.9 1661,3506.4 1661.9,3533.1 1664.6,3550.8 1668.2,3568.6 1670.8,3595.2 1672.6,3621.9 1672.6,3600 1673.5,3635.5 1675.3,3671.1 1677,3706.6 1677.9,3720.8 1680.6,3713.7 1684.1,3703 1686.8,3715.4 1689.5,3738.5 1693,3759.9 1696.6,3781.2 1700.1,3804.3 1703.7,3825.6 1707.2,3839.8 1710.8,3852.2 1716.1,3866.4 1721.4,3878.9 1725,3885.6 1777.9,3885.6" stroke="#97ec24"><title>06 AD</title></path>
</g></g>
<g stroke="#000" stroke-opacity="0.2">
<line x1="533.68" y1="2304" x2="533.68" y2="3884" stroke-width="7.4"/>
<line x1="844.76" y1="2304" x2="844.76" y2="3884" stroke-width="7.4"/>
<line x1="1155.84" y1="2304" x2="1155.84" y2="3884" stroke-width="7.4"/>
<line x1="1466.92" y1="2304" x2="1466.92" y2="3884" stroke-width="7.4"/>
<line x1="222.6" y1="2698.5" x2="1778" y2="2698.5" stroke-width="7.6"/>
<line x1="222.6" y1="3088.9" x2="1778" y2="3088.9" stroke-width="7.6"/>
<line x1="222.6" y1="3486.9" x2="1778" y2="3486.9" stroke-width="7.6"/>
</g>
<g stroke="#000" stroke-width="7.3" stroke-linecap="round">
<line x1="1155.84" y1="3884" x2="1155.84" y2="3865.31"/>
<line x1="1155.84" y1="3831.05" x2="1155.84" y2="3812.36"/>
<line x1="1155.84" y1="3778.11" x2="1155.84" y2="3759.42"/>
<line x1="1155.84" y1="3725.16" x2="1155.84" y2="3706.47"/>
<line x1="1155.84" y1="3672.21" x2="1155.84" y2="3653.52"/>
<line x1="1155.84" y1="3619.27" x2="1155.84" y2="3600.58"/>
<line x1="1155.84" y1="3566.32" x2="1155.84" y2="3547.63"/>
<line x1="1155.84" y1="3513.37" x2="1155.84" y2="3494.68"/>
<line x1="1155.84" y1="3460.37" x2="1155.84" y2="3441.63"/>
<line x1="1155.84" y1="3407.3" x2="1155.84" y2="3388.57"/>
<line x1="1155.84" y1="3354.23" x2="1155.84" y2="3335.5"/>
<line x1="1155.84" y1="3301.17" x2="1155.84" y2="3282.43"/>
<line x1="1155.84" y1="3248.1" x2="1155.84" y2="3229.37"/>
<line x1="1155.84" y1="3195.03" x2="1155.84" y2="3176.3"/>
<line x1="1155.84" y1="3141.97" x2="1155.84" y2="3123.23"/>
<line x1="1155.84" y1="3088.9" x2="1155.84" y2="3070.53"/>
<line x1="1155.84" y1="3036.85" x2="1155.84" y2="3018.47"/>
<line x1="1155.84" y1="2984.79" x2="1155.84" y2="2966.42"/>
<line x1="1155.84" y1="2932.74" x2="1155.84" y2="2914.37"/>
<line x1="1155.84" y1="2880.69" x2="1155.84" y2="2862.31"/>
<line x1="1155.84" y1="2828.63" x2="1155.84" y2="2810.26"/>
<line x1="1155.84" y1="2776.58" x2="1155.84" y2="2758.21"/>
<line x1="1155.84" y1="2724.53" x2="1155.84" y2="2706.15"/>
<line x1="1155.84" y1="2672.2" x2="1155.84" y2="2653.63"/>
<line x1="1155.84" y1="2619.6" x2="1155.84" y2="2601.03"/>
<line x1="1155.84" y1="2567" x2="1155.84" y2="2548.43"/>
<line x1="1155.84" y1="2514.4" x2="1155.84" y2="2495.83"/>
<line x1="1155.84" y1="2461.8" x2="1155.84" y2="2443.23"/>
<line x1="1155.84" y1="2409.2" x2="1155.84" y2="2390.63"/>
<line x1="1155.84" y1="2356.6" x2="1155.84" y2="2338.03"/>
</g>
<text transform="translate(1132.6,3089) rotate(-90)" text-anchor="middle" font-size="51.5px">threshold</text>
<g stroke="#000" stroke-linecap="round">
<line x1="223.2" y1="2402.62" x2="235.6" y2="2402.62" stroke-width="7.8"/>
<line x1="223.2" y1="2501.25" x2="235.6" y2="2501.25" stroke-width="7.8"/>
<line x1="223.2" y1="2599.88" x2="235.6" y2="2599.88" stroke-width="7.8"/>
<line x1="223.2" y1="2698.5" x2="249.6" y2="2698.5" stroke-width="7.8"/>
<line x1="223.2" y1="2796.1" x2="235.6" y2="2796.1" stroke-width="7.8"/>
<line x1="223.2" y1="2893.7" x2="235.6" y2="2893.7" stroke-width="7.8"/>
<line x1="223.2" y1="2991.3" x2="235.6" y2="2991.3" stroke-width="7.8"/>
<line x1="223.2" y1="3088.9" x2="249.6" y2="3088.9" stroke-width="7.8"/>
<line x1="223.2" y1="3188.4" x2="235.6" y2="3188.4" stroke-width="7.8"/>
<line x1="223.2" y1="3287.9" x2="235.6" y2="3287.9" stroke-width="7.8"/>
<line x1="223.2" y1="3387.4" x2="235.6" y2="3387.4" stroke-width="7.8"/>
<line x1="223.2" y1="3486.9" x2="249.6" y2="3486.9" stroke-width="7.8"/>
<line x1="223.2" y1="3586.18" x2="235.6" y2="3586.18" stroke-width="7.8"/>
<line x1="223.2" y1="3685.45" x2="235.6" y2="3685.45" stroke-width="7.8"/>
<line x1="223.2" y1="3784.72" x2="235.6" y2="3784.72" stroke-width="7.8"/>
<line x1="378.14" y1="3884" x2="378.14" y2="3871" stroke-width="7.2"/>
<line x1="533.68" y1="3884" x2="533.68" y2="3857" stroke-width="7.2"/>
<line x1="689.22" y1="3884" x2="689.22" y2="3871" stroke-width="7.2"/>
<line x1="844.76" y1="3884" x2="844.76" y2="3857" stroke-width="7.2"/>
<line x1="1000.3" y1="3884" x2="1000.3" y2="3871" stroke-width="7.2"/>
<line x1="1155.84" y1="3884" x2="1155.84" y2="3857" stroke-width="7.2"/>
<line x1="1311.38" y1="3884" x2="1311.38" y2="3871" stroke-width="7.2"/>
<line x1="1466.92" y1="3884" x2="1466.92" y2="3857" stroke-width="7.2"/>
<line x1="1622.46" y1="3884" x2="1622.46" y2="3871" stroke-width="7.2"/>
</g>
<g stroke="#000" stroke-linecap="round">
<line x1="222.6" y1="2304" x2="1778" y2="2304" stroke-width="7.8"/>
<line x1="222.6" y1="3884" x2="1778" y2="3884" stroke-width="7.8"/>
<line x1="222.6" y1="2304" x2="222.6" y2="3884" stroke-width="7.0"/>
<line x1="1778" y1="2304" x2="1778" y2="3884" stroke-width="7.9"/>
</g>
<g font-size="58.7px">
<text x="197.2" y="2323.2" text-anchor="end">800</text>
<text x="197.2" y="2717.7" text-anchor="end">600</text>
<text x="197.2" y="3108.1" text-anchor="end">400</text>
<text x="197.2" y="3506.1" text-anchor="end">200</text>
<text x="197.2" y="3903.2" text-anchor="end">0</text>
<text x="221.6" y="3962" text-anchor="middle">0</text>
<text x="532.68" y="3962" text-anchor="middle">0.2</text>
<text x="843.76" y="3962" text-anchor="middle">0.4</text>
<text x="1154.84" y="3962" text-anchor="middle">0.6</text>
<text x="1465.92" y="3962" text-anchor="middle">0.8</text>
<text x="1776.5" y="3962" text-anchor="middle">1</text>
</g>
<text x="998.6" y="4062" text-anchor="middle" font-size="65px">Cross-correlation coefficient</text>
<text transform="translate(56.8,3089) rotate(-90)" text-anchor="middle" font-size="66.3px">Frequency</text>
<rect x="334.2" y="2358.5" width="779.6" height="255.9" fill="#fff" stroke="#000" stroke-width="4.6" stroke-linejoin="round"/>
<text x="722.8" y="2437" text-anchor="middle" font-size="57.8px">Image pair</text>
<line x1="359.9" y1="2491.5" x2="424.6" y2="2491.5" stroke="#ff4b4b" stroke-width="8.2" stroke-linecap="round"/>
<text x="449" y="2507.9" font-size="51.8px">01 AB</text>
<line x1="609.8" y1="2491.5" x2="674.5" y2="2491.5" stroke="#00dc69" stroke-width="8.2" stroke-linecap="round"/>
<text x="698.5" y="2507.9" font-size="51.8px">03 CD</text>
<line x1="862.5" y1="2491.5" x2="927.2" y2="2491.5" stroke="#00d4fc" stroke-width="8.2" stroke-linecap="round"/>
<text x="951.2" y="2507.9" font-size="51.8px">05 BD</text>
<line x1="359.9" y1="2561.3" x2="424.6" y2="2561.3" stroke="#ffb566" stroke-width="8.2" stroke-linecap="round"/>
<text x="449" y="2578" font-size="51.8px">02 BC</text>
<line x1="609.8" y1="2561.3" x2="674.5" y2="2561.3" stroke="#009673" stroke-width="8.2" stroke-linecap="round"/>
<text x="698.5" y="2578" font-size="51.8px">04 AC</text>
<line x1="862.5" y1="2561.3" x2="927.2" y2="2561.3" stroke="#cb50e4" stroke-width="8.2" stroke-linecap="round"/>
<text x="951.2" y="2578" font-size="51.8px">06 AD</text>
<text y="4165.6"><tspan x="857.2" font-size="86.5px" style="font-weight:normal">(</tspan><tspan x="883.9" font-size="90px">b</tspan><tspan x="933.7" font-size="86.5px" style="font-weight:normal">)</tspan></text>
</g>
</svg>
</body></html>
